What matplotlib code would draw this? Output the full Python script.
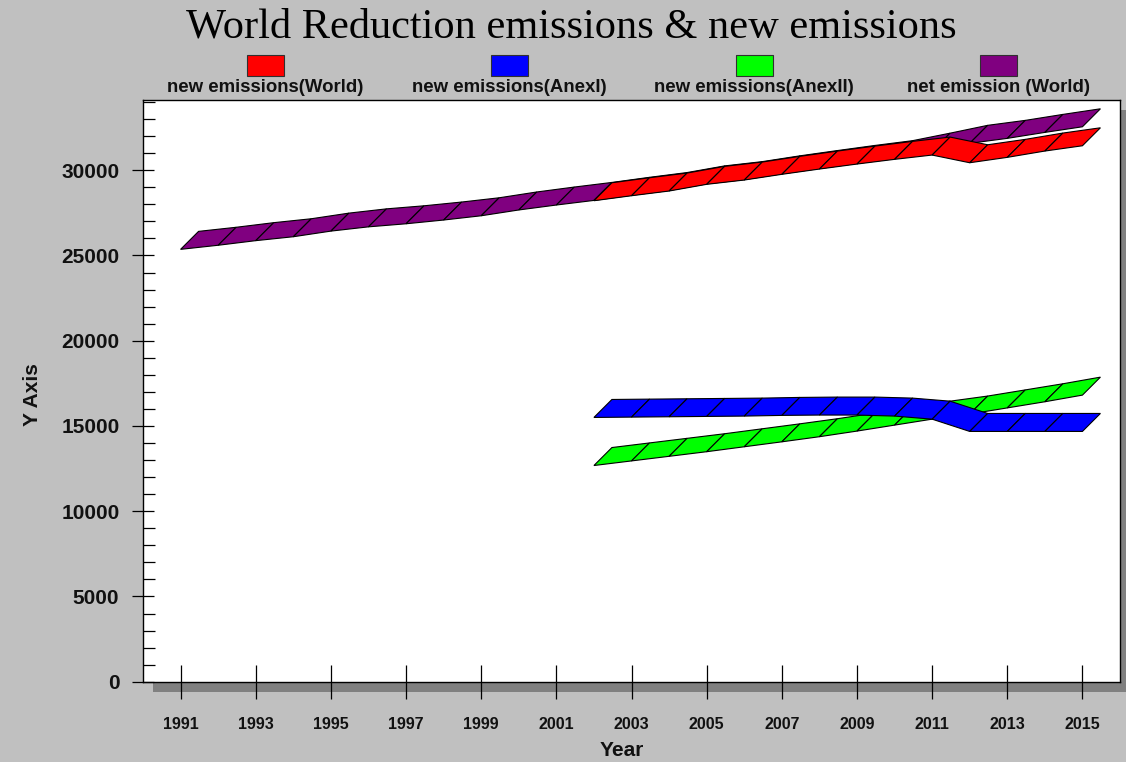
import matplotlib
matplotlib.use("Agg")
import matplotlib.pyplot as plt
from matplotlib.patches import Rectangle
from matplotlib.ticker import MultipleLocator

# ---------------- data ----------------
years_all = list(range(1991, 2016))
years_late = list(range(2002, 2016))

net_world = [25360, 25600, 25870, 26100, 26430, 26680, 26860, 27080, 27330, 27670,
             27960, 28230, 28530, 28810, 29200, 29450, 29790, 30100, 30400, 30680,
             31120, 31580, 31870, 32220, 32550]
new_world = [28212, 28505, 28781, 29174, 29426, 29760, 30070, 30363, 30639, 30891,
             30440, 30756, 31126, 31436]
new_anex1 = [15500, 15520, 15540, 15560, 15580, 15620, 15640, 15640, 15580, 15400,
             14680, 14680, 14680, 14680]
new_anex2 = [12680, 12950, 13220, 13490, 13780, 14070, 14370, 14700, 15050, 15400,
             15700, 16060, 16420, 16810]

legend_labels = ["new emissions(World)", "new emissions(AnexI)",
                 "new emissions(AnexII)", "net emission (World)"]
colors = ["#ff0000", "#0000ff", "#00ff00", "#800080"]
xtick_years = list(range(1991, 2016, 2))

# depth offset of the pseudo-3D ribbons (style)
DX = 0.479
DY = 1055

W, H = 1126, 762
fig = plt.figure(figsize=(W / 100, H / 100), dpi=100, facecolor="#c0c0c0")

def fx(px):
    return px / W

def fy(py):
    return 1 - py / H

ax_l, ax_r, ax_t, ax_b = 143, 1120, 99.5, 681.7
# shadow behind plot area
fig.patches.append(Rectangle((fx(ax_l + 10), fy(ax_b + 10)), fx(ax_r - ax_l), (ax_b - ax_t) / H,
                             transform=fig.transFigure, facecolor="#808080",
                             edgecolor="none", zorder=0))
ax = fig.add_axes([fx(ax_l), fy(ax_b), fx(ax_r - ax_l), (ax_b - ax_t) / H])
ax.set_facecolor("white")
ax.set_zorder(1)
for s in ax.spines.values():
    s.set_color("black")
    s.set_linewidth(1.0)

ax.set_xlim(1990, 2016)
ax.set_ylim(0, 34150)


def ribbon(xs, vs, color, z):
    for i in range(len(xs) - 1):
        px = [xs[i], xs[i + 1], xs[i + 1] + DX, xs[i] + DX]
        py = [vs[i], vs[i + 1], vs[i + 1] + DY, vs[i] + DY]
        ax.fill(px, py, facecolor=color, edgecolor="black", linewidth=0.8,
                zorder=z, joinstyle="miter")


ribbon(years_all, net_world, colors[3], 2)
ribbon(years_late, new_anex2, colors[2], 3)
ribbon(years_late, new_anex1, colors[1], 4)
ribbon(years_late, new_world, colors[0], 5)

ax.set_xticks(xtick_years)
ax.set_xticklabels([str(y) for y in xtick_years])
ax.yaxis.set_major_locator(MultipleLocator(5000))
ax.yaxis.set_minor_locator(MultipleLocator(1000))
ax.tick_params(axis="x", direction="inout", length=25, width=0.9, pad=13,
               labelsize=11.5, color="black")
ax.tick_params(axis="y", which="major", direction="inout", length=16, width=0.9,
               pad=9, labelsize=15, color="black")
ax.tick_params(axis="y", which="minor", direction="in", length=8.6, width=0.9,
               color="black")
for lab in ax.get_xticklabels() + ax.get_yticklabels():
    lab.set_fontfamily("Liberation Sans")
    lab.set_fontweight("bold")
    lab.set_color("#111111")

# axis labels
fig.text(fx(622), fy(750), "Year", ha="center", va="center", fontsize=15,
         fontweight="bold", family="Liberation Sans", color="#111111")
fig.text(fx(32), fy(395), "Y Axis", ha="center", va="center", rotation=90,
         fontsize=15, fontweight="bold", family="Liberation Sans", color="#111111")

# title
fig.text(fx(571), fy(27), "World Reduction emissions & new emissions", ha="center",
         va="center", fontsize=30.5, family="Liberation Serif", color="black")

# legend
leg_x = [265, 509, 754, 998]
for cx, col, lab in zip(leg_x, colors, legend_labels):
    fig.patches.append(Rectangle((fx(cx - 18.5), fy(76)), fx(37), 21 / H,
                                 transform=fig.transFigure, facecolor=col,
                                 edgecolor="#303030", linewidth=0.8, zorder=2))
    fig.text(fx(cx), fy(88), lab, ha="center", va="center", fontsize=13.4,
             fontweight="bold", family="Liberation Sans", color="#111111")

fig.savefig("out.png", dpi=100, facecolor=fig.get_facecolor())
